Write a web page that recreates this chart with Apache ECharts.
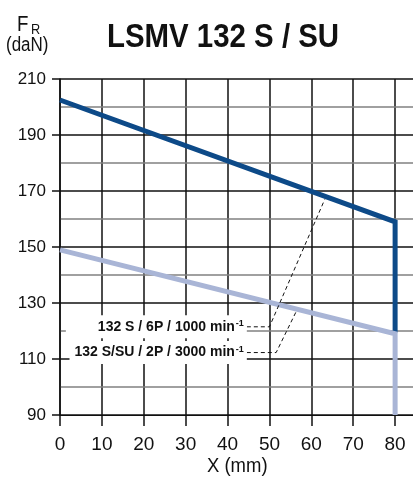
<!DOCTYPE html>
<html>
<head>
<meta charset="utf-8">
<script src="https://cdn.jsdelivr.net/npm/echarts@6/dist/echarts.min.js"></script>
<style>
html,body{margin:0;padding:0;background:#fff;}
#c{width:413px;height:480px;}
</style>
</head>
<body>
<div id="c"></div>
<script>
// ---- data ----
var xTicks = [0, 10, 20, 30, 40, 50, 60, 70, 80];
var yTicks = [90, 110, 130, 150, 170, 190, 210];
var s6pX = [0, 80, 80];
var s6pY = [202.5, 159, 119.5];
var s2pX = [0, 80, 80];
var s2pY = [149, 119, 90];
var lead6pX = [44.6, 50, 63.2];
var lead6pY = [121.5, 121.5, 167];
var lead2pX = [44.6, 51.6, 56.5];
var lead2pY = [112.3, 112.3, 127.3];
var label6p = '132 S / 6P / 1000 min';
var label2p = '132 S/SU / 2P / 3000 min';
var title = 'LSMV 132 S / SU';
var xName = 'X (mm)';

function zip(xs, ys) { return xs.map(function (x, i) { return [x, ys[i]]; }); }

var FONT = '"Liberation Sans", Arial, sans-serif';
var chart = echarts.init(document.getElementById('c'), null, {renderer: 'canvas'});

var leadLabel = function (txt, padLeft) {
  return {
    show: true,
    position: 'left',
    distance: 0,
    formatter: '{b|' + txt + '}{s|-1}',
    backgroundColor: '#fff',
    padding: [4, 3, 4, padLeft],
    rich: {
      b: {fontFamily: FONT, fontSize: 14, fontWeight: 'bold', color: '#111', lineHeight: 15},
      s: {fontFamily: FONT, fontSize: 9, fontWeight: 'bold', color: '#111', verticalAlign: 'top', lineHeight: 15, padding: [0, 0, 6, 1]}
    }
  };
};

var option = {
  animation: false,
  backgroundColor: '#fff',
  grid: {left: 60, top: 79, bottom: 65, right: -24, outerBoundsMode: 'none', containLabel: false},
  xAxis: {
    type: 'value', min: 0, max: 90, interval: 10,
    axisLine: {show: true, lineStyle: {color: '#111', width: 1}},
    axisTick: {show: true, length: 11, lineStyle: {color: '#111', width: 1.5}},
    axisLabel: {fontFamily: FONT, fontSize: 19, color: '#111', margin: 20,
      formatter: function (v) { return xTicks.indexOf(v) >= 0 ? String(v) : ''; }},
    splitLine: {show: true, lineStyle: {color: '#111', width: 1.5}}
  },
  yAxis: [{
    type: 'value', min: 90, max: 210, interval: 20,
    axisLine: {show: true, lineStyle: {color: '#111', width: 1.5}},
    axisTick: {show: true, length: 8, lineStyle: {color: '#111', width: 1.5}},
    axisLabel: {fontFamily: FONT, fontSize: 17, color: '#111', margin: 14,
      formatter: function (v) { return yTicks.indexOf(v) >= 0 ? String(v) : ''; }},
    splitLine: {show: true, lineStyle: {color: '#111', width: 1.5}},
    z: 3
  }, {
    type: 'value', min: 90, max: 210, interval: 10, position: 'left',
    axisLine: {show: false}, axisTick: {show: false}, axisLabel: {show: false},
    splitLine: {show: true, lineStyle: {color: ['rgba(0,0,0,0)', '#808080'], width: 1.5}},
    z: 1
  }],
  graphic: [
    {type: 'text', x: 17, y: 14, scaleX: 0.85, style: {text: 'F', fontFamily: FONT, fontSize: 22, fill: '#111'}},
    {type: 'text', x: 31, y: 22, scaleX: 0.85, style: {text: 'R', fontFamily: FONT, fontSize: 15, fill: '#111'}},
    {type: 'text', x: 6, y: 35, scaleX: 0.85, style: {text: '(daN)', fontFamily: FONT, fontSize: 20, fill: '#111'}},
    {type: 'text', x: 107, y: 21, scaleX: 0.865, style: {text: title, fontFamily: FONT, fontSize: 34, fontWeight: 'bold', fill: '#111'}},
    {type: 'text', x: 207, y: 456, scaleX: 0.88, style: {text: xName, fontFamily: FONT, fontSize: 21, fill: '#111'}}
  ],
  series: [
    {type: 'line', name: '6P', yAxisIndex: 0, data: zip(s6pX, s6pY), showSymbol: false, symbol: 'none',
      lineStyle: {color: '#0d4a88', width: 5, join: 'miter', cap: 'butt'}, z: 5},
    {type: 'line', name: '2P', yAxisIndex: 0, data: zip(s2pX, s2pY), showSymbol: false, symbol: 'none',
      lineStyle: {color: '#a9b5d6', width: 5, join: 'miter', cap: 'butt'}, z: 6},
    {type: 'line', name: 'lead6p', yAxisIndex: 0, symbol: 'circle', symbolSize: 0, showSymbol: true,
      data: zip(lead6pX, lead6pY).map(function (p, i) {
        return i === 0 ? {value: p, label: leadLabel(label6p, 32)} : {value: p};
      }),
      lineStyle: {color: '#111', width: 1, type: [4, 3]}, z: 7},
    {type: 'line', name: 'lead2p', yAxisIndex: 0, symbol: 'circle', symbolSize: 0, showSymbol: true,
      data: zip(lead2pX, lead2pY).map(function (p, i) {
        return i === 0 ? {value: p, label: leadLabel(label2p, 5)} : {value: p};
      }),
      lineStyle: {color: '#111', width: 1, type: [4, 3]}, z: 7}
  ]
};
chart.setOption(option);
</script>
</body>
</html>
